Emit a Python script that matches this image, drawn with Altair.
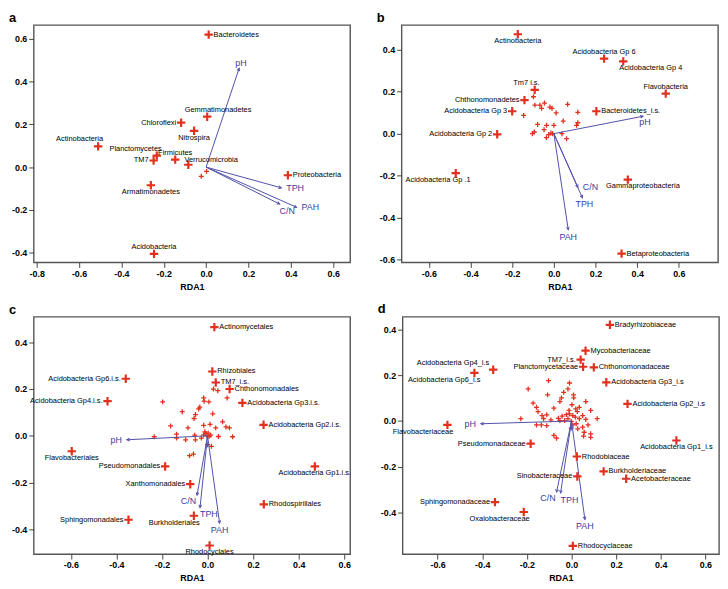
import math
import altair as alt
import pandas as pd

FONT = "Liberation Sans, Arial, sans-serif"
RED = "#e2301f"
BLUE = "#5050aa"
BLUE_TXT = "#3c3c9c"
PLUS = "M-1,0L1,0M0,-1L0,1"
HEAD = "M-0.5,1L0,0L0.5,1"
W, H = 320, 240

# ---------------- panel a ----------------
a_names = ["Bacteroidetes", "Gemmatimonadetes", "Chloroflexi", "Nitrospira", "Actinobacteria",
           "Planctomycetes", "TM7", "Firmicutes", "Verrucomicrobia", "Proteobacteria",
           "Armatimonadetes", "Acidobacteria"]
a_x = [0.012, 0.005, -0.118, -0.057, -0.51, -0.233, -0.248, -0.146, -0.084, 0.386, -0.261, -0.246]
a_y = [0.62, 0.236, 0.208, 0.17, 0.097, 0.054, 0.031, 0.035, 0.011, -0.038, -0.085, -0.406]
a_pos = ["r", "tc", "l", "b", "tl", "tl", "l", "t", "tr", "r", "b", "t"]
a_sx = [-0.023, 0.002]
a_sy = [-0.043, -0.020]
a_vars = ["pH", "TPH", "C/N", "PAH"]
a_vx = [0.156, 0.355, 0.347, 0.427]
a_vy = [0.463, -0.097, -0.173, -0.188]
a_vpos = ["tr", "r", "vbr", "r"]

# ---------------- panel b ----------------
b_names = ["Actinobacteria", "Acidobacteria Gp 6", "Acidobacteria Gp 4", "Flavobacteria", "Tm7 i.s.",
           "Chthonomonadetes", "Acidobacteria Gp 3", "Bacteroidetes_i.s.", "Acidobacteria Gp 2",
           "Acidobacteria Gp .1", "Gammaproteobacteria", "Betaproteobacteria"]
b_x = [-0.173, 0.241, 0.333, 0.537, -0.092, -0.141, -0.2, 0.204, -0.272, -0.471, 0.355, 0.325]
b_y = [0.474, 0.358, 0.345, 0.191, 0.209, 0.16, 0.107, 0.107, -0.003, -0.188, -0.219, -0.572]
b_pos = ["b", "t", "br", "t", "tl", "l", "l", "r", "l", "bm", "bw", "r"]
b_sx = [-0.098, -0.091, -0.067, -0.045, -0.059, -0.019, -0.009, 0.066, -0.145, 0.011, 0.115, -0.078, -0.035,
        0.0, 0.045, 0.115, 0.109, -0.103, -0.094, -0.047, -0.025, -0.036, -0.014, -0.006, 0.039, 0.061]
b_sy = [0.176, 0.136, 0.136, 0.146, 0.121, 0.127, 0.121, 0.14, 0.087, 0.099, 0.102, 0.044, 0.04,
        0.04, 0.06, 0.052, 0.04, 0.0, 0.008, 0.019, -0.005, -0.019, 0.003, 0.0, 0.0, -0.024]
b_vars = ["pH", "C/N", "TPH", "PAH"]
b_vx = [0.428, 0.115, 0.137, 0.069]
b_vy = [0.083, -0.256, -0.306, -0.458]
b_vpos = ["vb", "r", "vb", "b"]

# ---------------- panel c ----------------
c_names = ["Actinomycetales", "Rhizobiales", "TM7_i.s.", "Chthonomonadales", "Acidobacteria Gp3.i.s.",
           "Acidobacteria Gp2.i.s.", "Acidobacteria Gp6.i.s.", "Acidobacteria Gp4.i.s.", "Flavobacteriales",
           "Pseudomonadales", "Acidobacteria Gp1.i.s.", "Xanthomonadales", "Rhodospirillales",
           "Burkholderiales", "Sphingomonadales", "Rhodocyclales"]
c_x = [0.03, 0.021, 0.036, 0.097, 0.153, 0.246, -0.359, -0.439, -0.596, -0.186, 0.471, -0.076, 0.247,
       -0.06, -0.347, 0.009]
c_y = [0.465, 0.275, 0.228, 0.2, 0.141, 0.047, 0.244, 0.148, -0.066, -0.131, -0.131, -0.207, -0.293,
       -0.342, -0.359, -0.469]
c_pos = ["r", "r", "r", "r", "r", "r", "l", "l", "b", "l", "b", "l", "r", "bl", "l", "b"]
c_sx = [-0.197, -0.017, -0.015, 0.006, -0.034, -0.039, -0.111, -0.053, -0.059, 0.023, 0.086, 0.026, 0.045,
        -0.162, -0.086, -0.017, 0.011, 0.036, 0.066, 0.081, 0.096, -0.234, -0.136, -0.136, -0.096, -0.056,
        -0.053, -0.027, -0.017, -0.007, 0.003, -0.002, 0.014, 0.048, 0.11, 0.0, 0.017, -0.079, -0.062,
        -0.012, 0.007]
c_sy = [0.145, 0.162, 0.148, 0.145, 0.123, 0.115, 0.103, 0.091, 0.074, 0.094, 0.162, 0.2, 0.193,
        0.042, 0.034, 0.045, 0.049, 0.034, 0.06, 0.038, 0.034, -0.004, 0.007, -0.01, -0.017, 0.003,
        -0.017, -0.01, 0.004, 0.01, 0.011, 0.0, 0.003, -0.003, -0.004, -0.038, -0.045, -0.085, -0.078,
        0.017, -0.003]
c_vars = ["pH", "C/N", "TPH", "PAH"]
c_vx = [-0.354, -0.046, -0.033, 0.053]
c_vy = [-0.017, -0.254, -0.307, -0.374]
c_vpos = ["l", "vbl", "vbr", "b"]

# ---------------- panel d ----------------
d_names = ["Bradyrhizobiaceae", "Mycobacteriaceae", "TM7_i.s.", "Planctomycetaceae", "Chthonomonadaceae",
           "Acidobacteria Gp3_i.s", "Acidobacteria Gp2_i.s", "Acidobacteria Gp4_i.s", "Acidobacteria Gp6_i.s",
           "Flavobacteriaceae", "Acidobacteria Gp1_i.s", "Pseudomonadaceae", "Rhodobiaceae",
           "Burkholderiaceae", "Acetobacteraceae", "Sinobacteraceae", "Sphingomonadaceae",
           "Oxalobacteraceae", "Rhodocyclaceae"]
d_x = [0.172, 0.063, 0.041, 0.052, 0.1, 0.156, 0.251, -0.351, -0.435, -0.556, 0.47, -0.183, 0.024,
       0.144, 0.245, 0.026, -0.343, -0.214, 0.006]
d_y = [0.42, 0.307, 0.268, 0.237, 0.234, 0.169, 0.075, 0.224, 0.21, -0.017, -0.085, -0.099, -0.155,
       -0.22, -0.252, -0.242, -0.354, -0.397, -0.545]
d_pos = ["r", "r", "l", "l", "r", "r", "r", "ul", "bl", "bl", "b", "l", "r", "r", "r", "l", "l", "bl", "r"]
d_sx = [-0.103, -0.009, -0.194, -0.016, 0.009, -0.107, -0.045, -0.052, -0.035, -0.172, -0.157, -0.15,
        -0.079, 0.01, 0.064, 0.035, 0.086, 0.002, 0.019, -0.011, 0.026, -0.132, -0.111, -0.227, -0.125,
        -0.092, -0.059, -0.042, -0.023, -0.009, 0.006, 0.017, 0.035, 0.05, 0.064, 0.115, -0.157, -0.135,
        -0.111, -0.052, -0.031, -0.016, -0.001, 0.006, 0.021, 0.028, 0.05, 0.074, 0.057, -0.079, -0.067,
        0.054, 0.086, 0.086, -0.001]
d_sy = [0.176, 0.166, 0.14, 0.14, 0.114, 0.114, 0.101, 0.085, 0.125, 0.078, 0.06, 0.041,
        0.056, 0.101, 0.085, 0.06, 0.046, 0.071, 0.053, 0.046, 0.041, 0.024, 0.027, 0.01, 0.01,
        0.005, 0.012, 0.021, 0.028, 0.031, 0.024, 0.017, 0.01, 0.024, 0.007, 0.01, -0.017, -0.017,
        -0.02, 0.002, 0.002, 0.01, -0.002, -0.017, -0.012, -0.034, -0.027, -0.017, -0.049, -0.063, -0.075,
        -0.066, -0.056, -0.071, -0.031]
d_vars = ["pH", "C/N", "TPH", "PAH"]
d_vx = [-0.406, -0.067, -0.049, 0.06]
d_vy = [-0.012, -0.31, -0.314, -0.43]
d_vpos = ["l", "vbl", "vbr", "b"]

# label placement codes -> (align, dx, dy)
POS = {
    "r": ("left", 5, 0), "l": ("right", -5, 0),
    "t": ("center", 0, -7), "b": ("center", 0, 7),
    "tc": ("center", 11, -7),
    "tl": ("right", 5, -7), "bl": ("right", 6, 7), "bm": ("right", 15, 7),
    "br": ("left", -4, 7), "tr": ("left", -4, -5),
    "ul": ("right", -4, -7), "bw": ("left", -22, 7),
    "vb": ("center", 2, 6), "vbl": ("right", -1, 6), "vbr": ("left", 0, 7),
}


def panel(letter, names, xs, ys, pos, sx, sy, vars_, vx, vy, vpos, xdom, ydom, xt, yt):
    pts = pd.DataFrame({"name": names, "x": xs, "y": ys, "pos": pos})
    small = pd.DataFrame({"x": sx, "y": sy})
    kx = W / (xdom[1] - xdom[0])
    ky = H / (ydom[1] - ydom[0])
    vec = pd.DataFrame({"name": vars_, "x": vx, "y": vy, "pos": vpos})
    vec["x0"] = 0.0
    vec["y0"] = 0.0
    vec["ang"] = [(math.degrees(math.atan2(a * kx, b * ky)) + 360) % 360 for a, b in zip(vx, vy)]

    lab = "replace(format(datum.value, '.1f'), '\u2212', '-')"
    common = dict(labelExpr=lab, grid=False, domain=False, labelFont=FONT, labelFontWeight="bold",
                  labelFontSize=9, labelColor="black", tickSize=5, tickColor="#444", labelPadding=2)
    xsc = alt.Scale(domain=xdom, nice=False, zero=False)
    ysc = alt.Scale(domain=ydom, nice=False, zero=False)
    xax = alt.Axis(values=xt, title="RDA1", titleFont=FONT, titleFontWeight="bold",
                   titleFontSize=9, titleColor="black", titlePadding=4, **common)
    yax = alt.Axis(values=yt, title=None, **common)
    X = alt.X("x:Q", scale=xsc, axis=xax)
    Y = alt.Y("y:Q", scale=ysc, axis=yax)

    layers = []
    layers.append(alt.Chart(small).mark_point(shape=PLUS, size=25, strokeWidth=1.3, color=RED,
                                              filled=False, opacity=1).encode(x=X, y=Y))
    layers.append(alt.Chart(vec).mark_rule(color=BLUE, strokeWidth=1).encode(
        x=alt.X("x0:Q", scale=xsc, axis=xax), y=alt.Y("y0:Q", scale=ysc, axis=yax),
        x2="x:Q", y2="y:Q"))
    layers.append(alt.Chart(vec).mark_point(shape=HEAD, size=30, strokeWidth=1, color=BLUE,
                                            filled=False, opacity=1).encode(
        x=X, y=Y, angle=alt.Angle("ang:Q", scale=None)))
    layers.append(alt.Chart(pts).mark_point(shape=PLUS, size=72, strokeWidth=2.2, color=RED,
                                            filled=False, opacity=1).encode(x=X, y=Y))
    for code in sorted(set(pos)):
        al, dx, dy = POS[code]
        layers.append(alt.Chart(pts).transform_filter(alt.datum.pos == code).mark_text(
            align=al, baseline="middle", dx=dx, dy=dy, fontSize=7.5, font=FONT, color="black"
        ).encode(x=X, y=Y, text="name:N"))
    for code in sorted(set(vpos)):
        al, dx, dy = POS[code]
        layers.append(alt.Chart(vec).transform_filter(alt.datum.pos == code).mark_text(
            align=al, baseline="middle", dx=dx, dy=dy, fontSize=9, font=FONT, color=BLUE_TXT
        ).encode(x=X, y=Y, text="name:N"))
    return alt.layer(*layers).properties(
        width=W, height=H,
        title=alt.TitleParams(letter, anchor="start", frame="group", dx=-25, offset=0,
                              fontSize=13, fontWeight="bold", font=FONT, color="black"))


ticks8 = [-0.8, -0.6, -0.4, -0.2, 0.0, 0.2, 0.4, 0.6]
ticks6 = [-0.6, -0.4, -0.2, 0.0, 0.2, 0.4, 0.6]

pa = panel("a", a_names, a_x, a_y, a_pos, a_sx, a_sy, a_vars, a_vx, a_vy, a_vpos,
           [-0.814, 0.68], [-0.446, 0.665], ticks8, [-0.4, -0.2, 0.0, 0.2, 0.4, 0.6])
pb = panel("b", b_names, b_x, b_y, b_pos, b_sx, b_sy, b_vars, b_vx, b_vy, b_vpos,
           [-0.731, 0.788], [-0.614, 0.518], ticks6, [-0.6, -0.4, -0.2, 0.0, 0.2, 0.4])
pc = panel("c", c_names, c_x, c_y, c_pos, c_sx, c_sy, c_vars, c_vx, c_vy, c_vpos,
           [-0.763, 0.626], [-0.506, 0.509], ticks6, [-0.4, -0.2, 0.0, 0.2, 0.4])
pd_ = panel("d", d_names, d_x, d_y, d_pos, d_sx, d_sy, d_vars, d_vx, d_vy, d_vpos,
            [-0.757, 0.661], [-0.581, 0.455], ticks6, [-0.4, -0.2, 0.0, 0.2, 0.4])

chart = alt.vconcat(
    alt.hconcat(pa, pb, spacing=25),
    alt.hconcat(pc, pd_, spacing=25),
    spacing=10,
).properties(padding=0, background="white").configure_view(
    stroke="#555555", strokeWidth=1.4
).configure_axis(
    grid=False, domain=False
)

chart.save("out.html", embed_options={"renderer": "svg", "actions": False})
